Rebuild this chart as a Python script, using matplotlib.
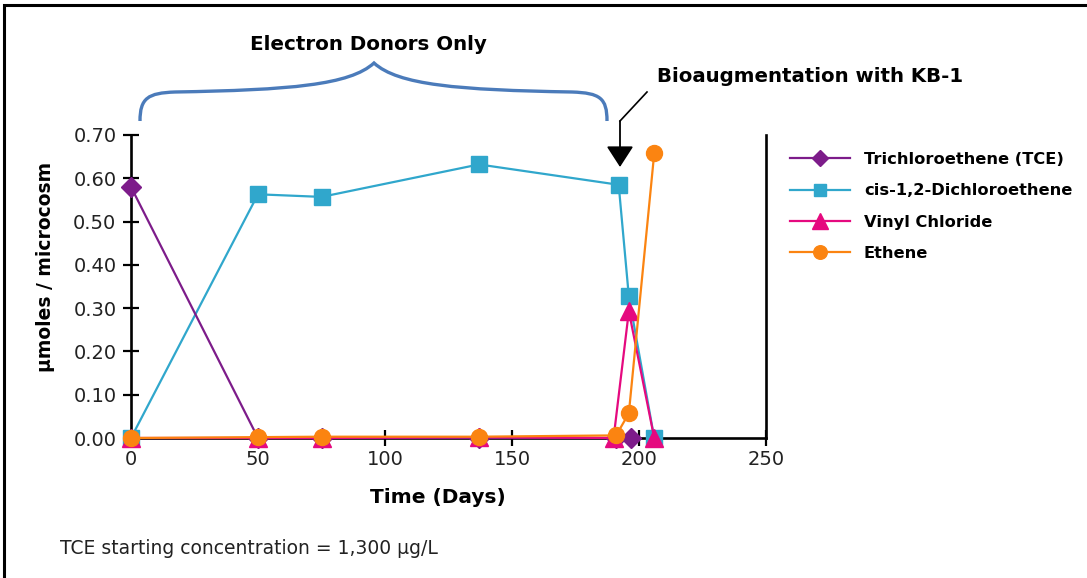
import matplotlib
matplotlib.use("Agg")
import matplotlib.pyplot as plt
from matplotlib.path import Path
from matplotlib.patches import PathPatch, Rectangle, FancyArrowPatch

W, H = 1087, 578

# ---- data ----
tce_x = [0, 50, 75, 137, 191, 197]
tce_y = [0.58, 0.0, 0.0, 0.0, 0.0, 0.0]
dce_x = [0, 50, 75, 137, 192, 196, 206]
dce_y = [0.0, 0.563, 0.557, 0.632, 0.585, 0.327, 0.0]
vc_x = [0, 50, 75, 137, 190, 196, 206]
vc_y = [0.0, 0.0, 0.0, 0.002, 0.0, 0.293, 0.0]
eth_x = [0, 50, 75, 137, 191, 196, 206]
eth_y = [0.0, 0.002, 0.003, 0.003, 0.006, 0.057, 0.658]
labels = ["Trichloroethene (TCE)", "cis-1,2-Dichloroethene", "Vinyl Chloride", "Ethene"]
xticks = [0, 50, 100, 150, 200, 250]
yticks = [0.0, 0.1, 0.2, 0.3, 0.4, 0.5, 0.6, 0.7]

c_tce = "#7d1c8a"
c_dce = "#30a7cc"
c_vc = "#e5097f"
c_eth = "#fb8411"

plt.rcParams['font.family'] = ['DejaVu Sans']

fig = plt.figure(figsize=(W / 100, H / 100), dpi=100)
fig.patch.set_facecolor("white")

def px(x, y):
    return (x / W, 1 - y / H)

l, r = 131 / W, 766 / W
b, t = 1 - 438 / H, 1 - 135 / H
ax = fig.add_axes([l, b, r - l, t - b])

h1, = ax.plot(tce_x, tce_y, color=c_tce, marker="D", ms=10, lw=1.6, clip_on=False, zorder=5)
h2, = ax.plot(dce_x, dce_y, color=c_dce, marker="s", ms=11, lw=1.6, clip_on=False, zorder=4)
h3, = ax.plot(vc_x, vc_y, color=c_vc, marker="^", ms=13, lw=1.6, clip_on=False, zorder=6)
h4, = ax.plot(eth_x, eth_y, color=c_eth, marker="o", ms=11.5, lw=1.6, clip_on=False, zorder=7)

ax.set_xlim(0, 250)
ax.set_ylim(0, 0.70)
ax.set_xticks(xticks)
ax.set_xticklabels([str(v) for v in xticks])
ax.set_yticks(yticks)
ax.set_yticklabels([f"{v:.2f}" for v in yticks])
ax.spines['top'].set_visible(False)
for s in ['left', 'bottom', 'right']:
    ax.spines[s].set_linewidth(1.9)
    ax.spines[s].set_color("black")
ax.tick_params(axis='both', direction='inout', length=11, width=1.6, labelsize=14,
               colors="black", labelcolor="#222222")
ax.tick_params(axis='y', pad=5)
ax.tick_params(axis='x', pad=3)
ax.set_xlabel("Time (Days)", fontsize=14.5, fontweight='bold')
ax.set_ylabel("µmoles / microcosm", fontsize=13.5, fontweight='bold')
ax.xaxis.set_label_coords(0.483, -0.198)
ax.yaxis.set_label_coords(-0.135, 0.564)
ax.xaxis.label.set_va('center')
ax.yaxis.label.set_va('center')

leg = fig.legend([h1, h2, h3, h4], labels, loc='upper left',
                 bbox_to_anchor=px(790, 152), frameon=False,
                 prop={'weight': 'bold', 'size': 11.7},
                 handlelength=3.7, handletextpad=0.85, labelspacing=1.0,
                 borderpad=0, borderaxespad=0, markerscale=0.85)

# brace
verts = [(140, 121), (140, 98), (148, 93), (175, 92),
         (290, 90), (350, 85), (374, 63),
         (398, 85), (458, 90), (572, 92),
         (600, 93), (607, 98), (607, 121)]
codes = [Path.MOVETO] + [Path.CURVE4] * 12
vf = [px(x, y) for x, y in verts]
fig.add_artist(PathPatch(Path(vf, codes), transform=fig.transFigure,
                         facecolor='none', edgecolor="#4b7bba", lw=2.4))

fig.text(*px(368, 45), "Electron Donors Only", ha='center', va='center',
         fontsize=14.3, fontweight='bold')
fig.text(*px(657, 76), "Bioaugmentation with KB-1", ha='left', va='center',
         fontsize=14.2, fontweight='bold')

# arrow
fig.add_artist(plt.Line2D([px(647, 92)[0], px(620, 121)[0]],
                          [px(647, 92)[1], px(620, 121)[1]],
                          transform=fig.transFigure, color='black', lw=1.2))
fig.add_artist(FancyArrowPatch(px(620, 121), px(620, 167), transform=fig.transFigure,
                               arrowstyle='-|>,head_length=0.65,head_width=0.42',
                               color='black', lw=1.3, mutation_scale=20,
                               shrinkA=0, shrinkB=0))

fig.text(*px(60, 549), "TCE starting concentration = 1,300 µg/L", ha='left', va='center',
         fontsize=13.5, color="#222222")

# outer border
fig.add_artist(Rectangle(px(4, 600), 1200 / W, (600 - 5) / H, transform=fig.transFigure,
                         facecolor='none', edgecolor='black', lw=2.2))

fig.savefig("out.png", dpi=100)
